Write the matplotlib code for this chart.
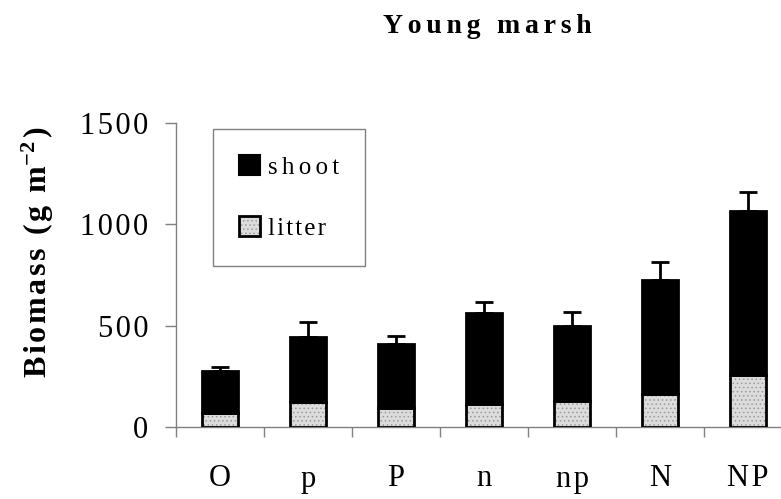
import matplotlib
matplotlib.use('Agg')
import matplotlib.pyplot as plt
from matplotlib.patches import Patch
from matplotlib.legend_handler import HandlerTuple

categories = ['O', 'p', 'P', 'n', 'np', 'N', 'NP']
litter = [68, 125, 92, 113, 130, 161, 255]
shoot = [210, 317, 316, 448, 370, 564, 812]
err = [19, 77, 41, 54, 69, 90, 92]
yticks = [0, 500, 1000, 1500]

HAIR = '\u200a'


def spaced(s, sep):
    return sep.join(s)


plt.rcParams['font.family'] = ['Liberation Serif', 'DejaVu Serif']
plt.rcParams['mathtext.fontset'] = 'custom'
plt.rcParams['mathtext.rm'] = 'Liberation Serif:bold'
plt.rcParams['mathtext.bf'] = 'Liberation Serif:bold'
plt.rcParams['mathtext.default'] = 'bf'
plt.rcParams['hatch.linewidth'] = 0.6

fig = plt.figure(figsize=(7.81, 4.99), dpi=100)
ax = fig.add_axes([176/781, 72/499, 616/781, 304/499])

x = list(range(len(categories)))
w = 0.42
tops = [l + s for l, s in zip(litter, shoot)]

ax.bar(x, litter, w, color='#dcdcdc', hatch='....', edgecolor='#9a9a9a', linewidth=0, zorder=2)
ax.bar(x, litter, w, fill=False, edgecolor='black', linewidth=2, zorder=3)
ax.bar(x, shoot, w, bottom=litter, color='black', edgecolor='black', linewidth=2, zorder=3)
ax.errorbar(x, tops, yerr=[[0]*len(x), err], fmt='none', ecolor='black',
            elinewidth=2, capsize=6.5, capthick=2, zorder=4)

ax.set_xlim(-0.5, len(x) - 0.5)
ax.set_ylim(0, 1500)
ax.set_yticks(yticks)
ax.set_yticklabels([spaced(str(v), HAIR) for v in yticks])
ax.set_xticks(x)
ax.set_xticklabels([spaced(c, HAIR) for c in categories])
ax.set_xticks([i - 0.5 for i in x], minor=True)

for s in ['top', 'right']:
    ax.spines[s].set_visible(False)
for s in ['left', 'bottom']:
    ax.spines[s].set_color('#808080')
    ax.spines[s].set_linewidth(1)

ax.tick_params(axis='y', direction='out', length=8, width=1, color='#808080', pad=12, labelsize=22)
ax.tick_params(axis='x', which='major', length=0, pad=27, labelsize=22)
ax.tick_params(axis='x', which='minor', direction='out', length=7, width=1, color='#808080')

fig.text(487.5/781, 1 - 33/499, spaced('Young marsh', HAIR * 2), ha='center', va='baseline',
         fontsize=20, fontweight='bold')
fig.text(38/781, 1 - 252/499, spaced('Biomass (g m', HAIR) + r'$^{-2}$' + HAIR + ')',
         rotation=90, ha='center', va='center', fontsize=23, fontweight='bold')

h_shoot = Patch(facecolor='black', edgecolor='black', linewidth=1.5)
h_lit_fill = Patch(facecolor='#dcdcdc', hatch='....', edgecolor='#9a9a9a', linewidth=0)
h_lit_edge = Patch(fill=False, edgecolor='black', linewidth=2)
leg = ax.legend([h_shoot, (h_lit_fill, h_lit_edge)],
                [spaced('shoot', HAIR * 2), spaced('litter', HAIR)],
                handler_map={tuple: HandlerTuple(ndivide=1, pad=0)},
                loc='upper left', bbox_to_anchor=(213/781, 1 - 129/499),
                bbox_transform=fig.transFigure, fontsize=18,
                handlelength=0.85, handleheight=0.85, handletextpad=0.3,
                labelspacing=1.5, borderpad=1.05, borderaxespad=0,
                fancybox=False, framealpha=1, edgecolor='#808080')
leg.get_frame().set_linewidth(1)

fig.savefig('out.png', dpi=100)
